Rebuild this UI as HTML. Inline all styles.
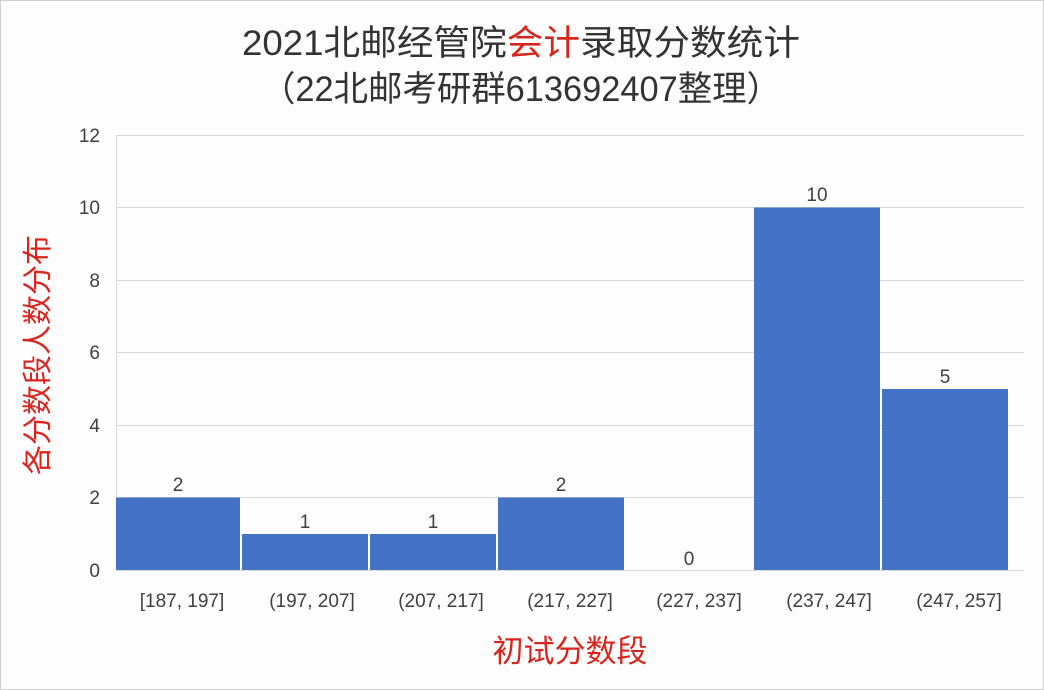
<!DOCTYPE html>
<html><head><meta charset="utf-8"><style>
html,body{margin:0;padding:0;background:#fff}
svg{display:block}
text{font-family:"Liberation Sans","Noto Sans CJK SC",sans-serif}
</style></head><body>
<svg width="1044" height="690" viewBox="0 0 1044 690" xmlns="http://www.w3.org/2000/svg">
<rect x="0.5" y="0.5" width="1043" height="689" fill="#fdfdfe" stroke="#cfcfcf"/>
<text x="521" y="55" font-size="35" text-anchor="middle" fill="#333" textLength="558" lengthAdjust="spacingAndGlyphs">2021北邮经管院<tspan fill="#d8251e">会计</tspan>录取分数统计</text>
<text x="521" y="101" font-size="35" text-anchor="middle" fill="#333" textLength="520" lengthAdjust="spacingAndGlyphs">（22北邮考研群613692407整理）</text>
<g stroke="#d9d9d9" stroke-width="1">
<line x1="116" y1="135.5" x2="1024" y2="135.5"/>
<line x1="116" y1="207.5" x2="1024" y2="207.5"/>
<line x1="116" y1="280.5" x2="1024" y2="280.5"/>
<line x1="116" y1="352.5" x2="1024" y2="352.5"/>
<line x1="116" y1="425.5" x2="1024" y2="425.5"/>
<line x1="116" y1="497.5" x2="1024" y2="497.5"/>
<line x1="116" y1="570.5" x2="1024" y2="570.5"/>
<line x1="116.5" y1="135" x2="116.5" y2="570"/>
</g>
<g fill="#4472c4">
<rect x="116" y="497.5" width="124" height="72.5"/>
<rect x="242" y="534" width="126" height="36"/>
<rect x="370" y="534" width="126" height="36"/>
<rect x="498" y="497.5" width="126" height="72.5"/>
<rect x="754" y="207.5" width="126" height="362.5"/>
<rect x="882" y="389" width="126" height="181"/>
</g>
<g font-size="19" fill="#404040" text-anchor="end">
<text x="100" y="142">12</text><text x="100" y="214">10</text><text x="100" y="287">8</text>
<text x="100" y="359">6</text><text x="100" y="432">4</text><text x="100" y="504">2</text><text x="100" y="577">0</text>
</g>
<g font-size="19" fill="#404040" text-anchor="middle">
<text x="178" y="491">2</text><text x="305" y="528">1</text><text x="433" y="528">1</text>
<text x="561" y="491">2</text><text x="689" y="565">0</text><text x="817" y="201">10</text><text x="945" y="383">5</text>
</g>
<g font-size="19" fill="#404040" text-anchor="middle">
<text x="182" y="607">[187, 197]</text><text x="312" y="607">(197, 207]</text><text x="441" y="607">(207, 217]</text>
<text x="570" y="607">(217, 227]</text><text x="699" y="607">(227, 237]</text><text x="829" y="607">(237, 247]</text>
<text x="959" y="607">(247, 257]</text>
</g>
<text x="570" y="662" font-size="31" text-anchor="middle" fill="#d8251e">初试分数段</text>
<text transform="translate(48,355) rotate(-90)" font-size="30" text-anchor="middle" fill="#d8251e">各分数段人数分布</text>
</svg>
</body></html>
